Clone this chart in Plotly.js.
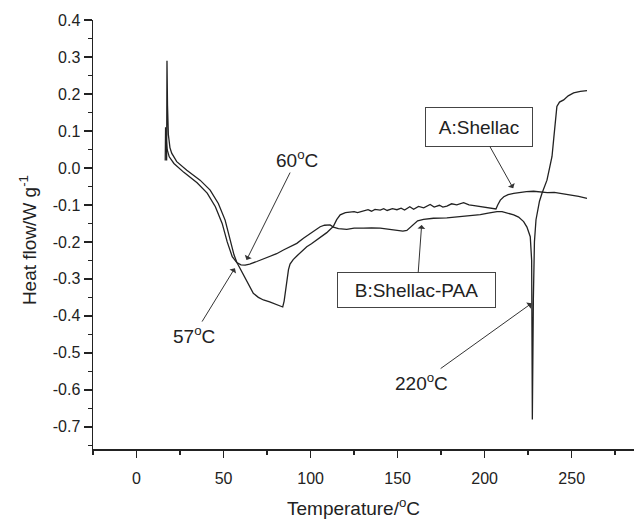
<!DOCTYPE html>
<html>
<head>
<meta charset="utf-8">
<script src="https://cdn.plot.ly/plotly-3.0.1.min.js"></script>
<style>
  html, body { margin: 0; padding: 0; background: #fff; }
  #chart { width: 634px; height: 519px; }
</style>
</head>
<body>
<div id="chart"></div>
<script>
// DSC heat-flow curves, temperature in °C, heat flow in W/g

// A: Shellac
const shellacT = [17.3, 17.5, 17.8, 18.3, 19.2, 20.2, 23.1, 28.9, 36.5, 42.3, 47.0, 50.9, 53.8, 56.0, 57.6,
  59.5, 61.4, 64.0, 67.1, 70.0, 72.9, 76.5, 80.6, 84.0, 84.8, 85.6, 86.3, 87.3, 88.2, 90.0, 92.1, 95.0,
  97.8, 100.5, 103.6, 106.5, 109.3, 111.5, 113.1, 115.0, 117.0, 120.0, 122.7, 125.0, 127.0, 130.4, 133.0,
  135.0, 137.0, 140.0, 142.0, 144.0, 147.0, 149.6, 152.0, 154.0, 157.0, 159.2, 162.0, 165.0, 168.7, 171.0,
  174.0, 176.0, 178.3, 181.0, 184.0, 187.9, 191.0, 194.0, 197.5, 201.0, 204.0, 206.5, 207.5, 209.0, 211.0,
  213.5, 216.7, 220.0, 224.0, 228.1, 232.0, 236.0, 240.0, 245.4, 250.0, 254.0, 258.8];
const shellacHF = [0.02, 0.29, 0.17, 0.09, 0.055, 0.04, 0.017, -0.006, -0.033, -0.06, -0.096, -0.141, -0.195, -0.235, -0.255,
  -0.272, -0.288, -0.315, -0.339, -0.35, -0.357, -0.362, -0.37, -0.376, -0.36, -0.33, -0.303, -0.275, -0.26, -0.248, -0.238, -0.225,
  -0.213, -0.205, -0.195, -0.185, -0.175, -0.165, -0.158, -0.14, -0.127, -0.121, -0.12, -0.118, -0.121, -0.116, -0.113,
  -0.117, -0.112, -0.114, -0.110, -0.115, -0.110, -0.113, -0.109, -0.114, -0.105, -0.112, -0.104, -0.108, -0.099, -0.106,
  -0.101, -0.106, -0.103, -0.097, -0.100, -0.094, -0.100, -0.102, -0.105, -0.107, -0.109, -0.111, -0.100, -0.087, -0.078,
  -0.072, -0.069, -0.066, -0.064, -0.063, -0.065, -0.067, -0.066, -0.070, -0.073, -0.077, -0.082];

// B: Shellac-PAA
const paaT = [16.5, 16.7, 17.0, 17.6, 18.8, 21.5, 27.2, 34.8, 40.6, 45.3, 49.2, 52.1, 55.0, 57.6, 60.0,
  62.4, 65.0, 69.1, 72.9, 76.7, 80.5, 84.4, 88.0, 92.1, 95.9, 99.7, 102.5, 105.5, 108.0, 111.2, 113.1,
  116.0, 120.8, 125.0, 130.4, 135.0, 140.0, 145.0, 149.6, 153.0, 155.3, 157.5, 159.2, 161.5, 164.9, 170.6,
  178.3, 183.0, 187.9, 192.0, 197.5, 202.0, 207.1, 210.0, 213.0, 216.7, 219.5, 222.4, 224.3, 226.2, 227.0,
  227.4, 228.0, 228.6, 229.5, 230.2, 231.5, 232.9, 234.3, 235.8, 237.3, 238.7, 239.7, 240.6, 241.5, 243.0,
  245.4, 248.0, 251.1, 255.0, 258.8];
const paaHF = [0.02, 0.11, 0.08, 0.05, 0.03, 0.012, -0.012, -0.04, -0.068, -0.105, -0.15, -0.2, -0.24, -0.256, -0.262,
  -0.263, -0.26, -0.253, -0.246, -0.24, -0.232, -0.222, -0.214, -0.204, -0.19, -0.177, -0.168, -0.159, -0.155, -0.154, -0.16,
  -0.164, -0.166, -0.163, -0.163, -0.162, -0.163, -0.166, -0.17, -0.171, -0.169, -0.16, -0.152, -0.143, -0.139, -0.136,
  -0.135, -0.133, -0.131, -0.129, -0.126, -0.122, -0.118, -0.118, -0.122, -0.127, -0.133, -0.145, -0.16, -0.186, -0.25,
  -0.68, -0.35, -0.2, -0.14, -0.123, -0.09, -0.069, -0.05, -0.033, 0.0, 0.031, 0.08, 0.121, 0.166, 0.178,
  0.184, 0.195, 0.203, 0.207, 0.209];

// Axis ticks
const xTickVals = [0, 50, 100, 150, 200, 250];
const yTickVals = [0.4, 0.3, 0.2, 0.1, 0.0, -0.1, -0.2, -0.3, -0.4, -0.5, -0.6, -0.7];
const yTickText = ['0.4', '0.3', '0.2', '0.1', '0.0', '-0.1', '-0.2', '-0.3', '-0.4', '-0.5', '-0.6', '-0.7'];

const FONT = 'Liberation Sans, Arial, Helvetica, sans-serif';
const INK = '#222';

const lineStyle = { color: INK, width: 1.3 };

const traces = [
  { x: shellacT, y: shellacHF, mode: 'lines', line: lineStyle, name: 'A:Shellac', hoverinfo: 'x+y' },
  { x: paaT, y: paaHF, mode: 'lines', line: lineStyle, name: 'B:Shellac-PAA', hoverinfo: 'x+y' }
];

// Label centred at (tx, ty) with an arrow pointing to (hx, hy), all in data units
function callout(text, tx, ty, hx, hy, extra) {
  return Object.assign({
    x: hx, y: hy, ax: tx, ay: ty,
    xref: 'x', yref: 'y', axref: 'x', ayref: 'y',
    text: text, showarrow: true,
    arrowhead: 1, arrowsize: 1.3, arrowwidth: 1, arrowcolor: '#333',
    standoff: 0, startstandoff: 0,
    font: { family: FONT, size: 19, color: INK }
  }, extra || {});
}

const boxed = { bordercolor: '#444', borderwidth: 1, borderpad: 2 };

const annotations = [
  callout('60<sup>o</sup>C', 92.1, 0.024, 63.2, -0.249),
  callout('57<sup>o</sup>C', 32.9, -0.452, 56.5, -0.271),
  callout('220<sup>o</sup>C', 163.9, -0.579, 227.0, -0.366),
  callout('A:Shellac', 196.7, 0.111, 216.4, -0.055, Object.assign({ width: 102, height: 34 }, boxed)),
  callout('B:Shellac-PAA', 161.1, -0.330, 163.8, -0.154, Object.assign({ width: 153, height: 30 }, boxed)),
  // axis titles
  { x: 0.4806, y: -0.1352, xref: 'paper', yref: 'paper', showarrow: false,
    text: 'Temperature/<sup>o</sup>C', xanchor: 'center', yanchor: 'middle',
    font: { family: FONT, size: 19, color: INK } },
  { x: -0.1201, y: 0.487, xref: 'paper', yref: 'paper', showarrow: false,
    text: 'Heat flow/W g<sup>-1</sup>', textangle: -90, xanchor: 'center', yanchor: 'middle',
    font: { family: FONT, size: 19, color: INK } }
];

const layout = {
  width: 634, height: 519,
  margin: { l: 93, r: 0, t: 20, b: 70 },
  paper_bgcolor: '#fff', plot_bgcolor: '#fff',
  showlegend: false,
  font: { family: FONT, size: 16, color: INK },
  xaxis: {
    range: [-25, 285.8], showgrid: false, zeroline: false,
    showline: true, linecolor: INK, linewidth: 1.5, mirror: false,
    tickmode: 'array', tickvals: xTickVals,
    ticks: 'outside', ticklen: 7, tickwidth: 1.5, tickcolor: INK,
    ticklabelstandoff: 7,
    minor: { dtick: 25, tick0: 0, ticks: 'outside', ticklen: 4, tickwidth: 1.5, tickcolor: INK, showgrid: false },
    tickfont: { family: FONT, size: 16, color: INK }
  },
  yaxis: {
    range: [-0.76, 0.4], showgrid: false, zeroline: false,
    showline: true, linecolor: INK, linewidth: 1.5, mirror: false,
    tickmode: 'array', tickvals: yTickVals, ticktext: yTickText,
    ticks: 'outside', ticklen: 8, tickwidth: 1.5, tickcolor: INK,
    minor: { dtick: 0.05, tick0: 0, ticks: 'outside', ticklen: 4, tickwidth: 1.5, tickcolor: INK, showgrid: false },
    tickfont: { family: FONT, size: 16, color: INK }
  },
  annotations: annotations
};

Plotly.newPlot('chart', traces, layout, { staticPlot: true, displayModeBar: false });
</script>
</body>
</html>
